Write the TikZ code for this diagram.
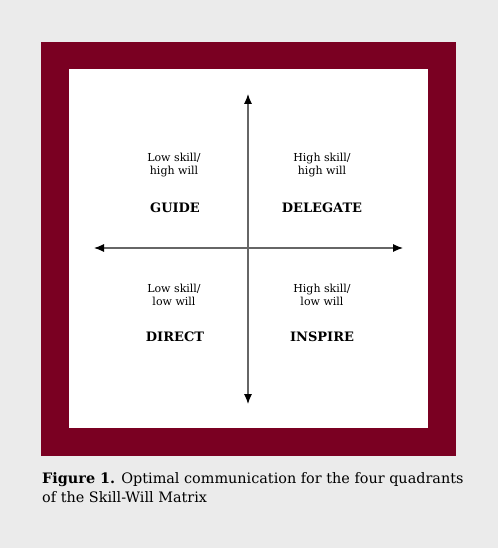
\documentclass[tikz,border=0pt]{standalone}
\usepackage{fontspec}
\setmainfont{DejaVu Serif}
\usetikzlibrary{positioning,arrows.meta}
\definecolor{paper}{HTML}{EBEBEB}
\definecolor{wine}{HTML}{7A0022}
\definecolor{axisgray}{HTML}{666666}
\tikzset{
  cue/.style={align=center, font=\fontsize{11}{13.5}\selectfont, inner sep=0pt},
  quad/.style={font=\bfseries\fontsize{13}{15}\selectfont, inner sep=0pt},
  captionline/.style={anchor=base west, inner sep=0pt, font=\fontsize{14.4}{18}\selectfont},
  axis/.style={{Latex[length=10pt,width=8pt,color=black]}-{Latex[length=10pt,width=8pt,color=black]}, draw=axisgray, line width=1.1pt}
}
\begin{document}
\begin{tikzpicture}[x=1pt,y=-1pt]
\fill[paper] (0,0) rectangle (498,548);
\useasboundingbox (0,0) rectangle (498,548);
\fill[wine] (41,42) rectangle (456,456);
\fill[white] (69,69) rectangle (428,428);

\coordinate (top) at (248,94);
\coordinate (bottom) at (248,404);
\coordinate (left) at (94,248);
\coordinate (right) at (403,248);
\draw[axis] (top) -- (bottom);
\draw[axis] (left) -- (right);

\node[cue] (lh) at (174,165) {Low skill/\\high will};
\node[quad] (guide) at (175,208) {GUIDE};
\node[cue] (hh) at (322,165) {High skill/\\high will};
\node[quad] (delegate) at (322,208) {DELEGATE};
\node[cue] (ll) at (174,295) {Low skill/\\low will};
\node[quad] (direct) at (175,337) {DIRECT};
\node[cue] (hl) at (322,295) {High skill/\\low will};
\node[quad] (inspire) at (322,337) {INSPIRE};

\node[captionline] (caption) at (42,483)
  {\textbf{Figure 1.} Optimal communication for the four quadrants};
\node[captionline] (caption2) at (42,502) {of the Skill-Will Matrix};
\end{tikzpicture}
\end{document}
